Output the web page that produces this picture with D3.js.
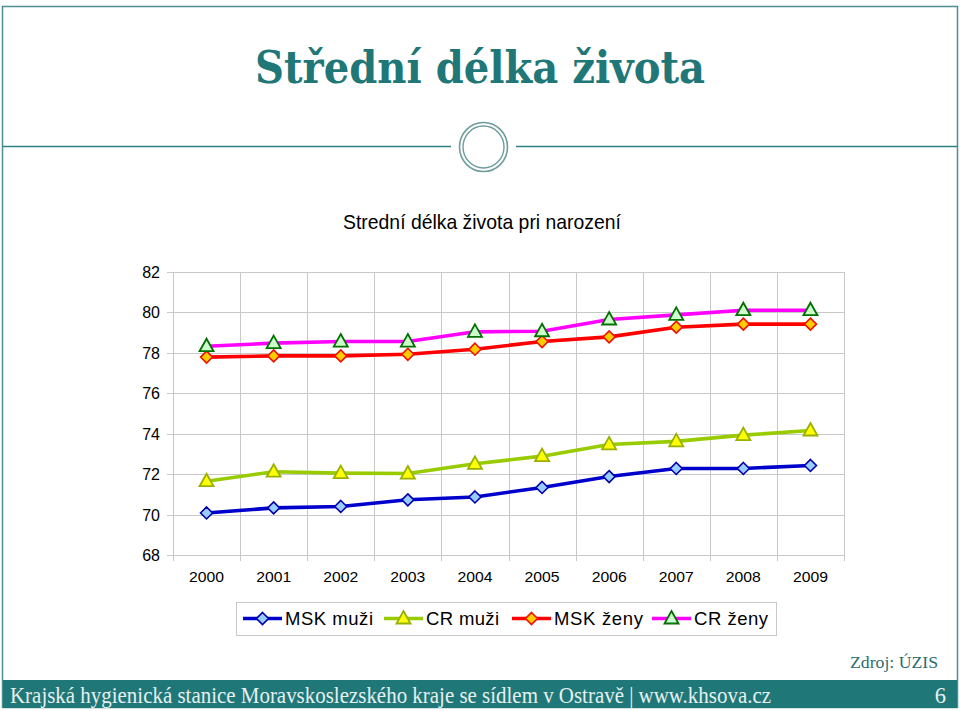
<!DOCTYPE html>
<html><head><meta charset="utf-8">
<script src="https://cdn.jsdelivr.net/npm/d3@7"></script>
<style>body{margin:0;background:#fff}svg{display:block}</style>
</head><body>
<svg id="c" width="960" height="711"></svg>
<script>
const years = ["2000","2001","2002","2003","2004","2005","2006","2007","2008","2009"];
const mskMuzi = [70.08,70.33,70.40,70.73,70.87,71.34,71.88,72.28,72.28,72.43];
const crMuzi  = [71.65,72.12,72.05,72.03,72.51,72.89,73.47,73.62,73.93,74.16];
const mskZeny = [77.79,77.85,77.85,77.93,78.18,78.56,78.79,79.27,79.42,79.42];
const crZeny  = [78.33,78.48,78.56,78.56,79.04,79.07,79.65,79.88,80.11,80.11];
const yTicks = [68,70,72,74,76,78,80,82];
const seriesNames = ["MSK muži","CR muži","MSK ženy","CR ženy"];

const svg = d3.select("#c");
const teal = "#1f7778";

function fit(sel, w){ const n=sel.node(); const cur=n.getComputedTextLength(); const fs=parseFloat(sel.attr("font-size")); sel.attr("font-size", fs*w/cur); }

// slide frame
svg.append("rect").attr("x",2.5).attr("y",6.5).attr("width",955).attr("height",701).attr("fill","none").attr("stroke","#4e8e90").attr("stroke-width",1.5);
// header rule
svg.append("line").attr("x1",3).attr("x2",451).attr("y1",146.5).attr("y2",146.5).attr("stroke","#2d8083").attr("stroke-width",1.5);
svg.append("line").attr("x1",516).attr("x2",957).attr("y1",146.5).attr("y2",146.5).attr("stroke","#2d8083").attr("stroke-width",1.5);
svg.append("ellipse").attr("cx",483.5).attr("cy",147).attr("rx",24).attr("ry",24.5).attr("fill","#fff").attr("stroke","#6f9c9d").attr("stroke-width",1.6);
svg.append("ellipse").attr("cx",483.5).attr("cy",147).attr("rx",20.5).attr("ry",21).attr("fill","none").attr("stroke","#6f9c9d").attr("stroke-width",1.4);

// title
const tg = svg.append("g").attr("transform","translate(480,83) scale(1,1.13)");
const t = tg.append("text").attr("x",0).attr("y",0).attr("text-anchor","middle")
  .attr("font-family","'DejaVu Serif', Georgia, serif").attr("font-weight","bold").attr("font-size",40)
  .attr("fill",teal).text("Střední délka života");
fit(t,450);

// footer
svg.append("rect").attr("x",3).attr("y",680).attr("width",954).attr("height",28).attr("fill","#1f7778");
const ft = svg.append("text").attr("x",10).attr("y",703).attr("font-family","'Liberation Serif', serif").attr("font-size",22.5)
  .attr("fill","#e6f0f0").text("Krajská hygienická stanice Moravskoslezského kraje se sídlem v Ostravě | www.khsova.cz");
ft.attr("textLength",761).attr("lengthAdjust","spacingAndGlyphs");
svg.append("text").attr("x",946).attr("y",703).attr("text-anchor","end").attr("font-family","'Liberation Serif', serif").attr("font-size",22.5).attr("fill","#e6f0f0").text("6");
svg.append("text").attr("x",938).attr("y",668).attr("text-anchor","end").attr("font-family","'Liberation Serif', serif").attr("font-size",17.5).attr("fill","#2b6d6f")
  .attr("textLength",88).attr("lengthAdjust","spacingAndGlyphs").text("Zdroj: ÚZIS");

// chart title
const ct = svg.append("text").attr("x",482).attr("y",229).attr("text-anchor","middle")
  .attr("font-family","'Liberation Sans', Arial, sans-serif").attr("font-size",18).attr("fill","#000")
  .text("Strední délka života pri narození");
fit(ct,278);

// plot
const L=173, R=844, T=272, B=555;
const x = d3.scaleBand().domain(years).range([L,R]);
const y = d3.scaleLinear().domain([68,82]).range([B,T]);
const g = svg.append("g");
const grid = "#c8c8c8";
g.selectAll(".hg").data(yTicks).join("line").attr("x1",L-6).attr("x2",R).attr("y1",d=>Math.round(y(d))+0.5).attr("y2",d=>Math.round(y(d))+0.5).attr("stroke",grid).attr("stroke-width",1);
const bounds = years.map(d=>x(d)).concat([R]);
g.selectAll(".vg").data(bounds).join("line").attr("x1",d=>Math.round(d)+0.5).attr("x2",d=>Math.round(d)+0.5).attr("y1",T).attr("y2",B+6).attr("stroke",grid).attr("stroke-width",1);
g.selectAll(".yl").data(yTicks).join("text").attr("x",160).attr("y",d=>y(d)+6).attr("text-anchor","end")
  .attr("font-family","'Liberation Sans', Arial, sans-serif").attr("font-size",16).text(d=>d);
g.selectAll(".xl").data(years).join("text").attr("x",d=>x(d)+x.bandwidth()/2).attr("y",582).attr("text-anchor","middle")
  .attr("font-family","'Liberation Sans', Arial, sans-serif").attr("font-size",15.5).attr("textLength",35).attr("lengthAdjust","spacingAndGlyphs").text(d=>d);

const series = [
  {name:seriesNames[0], vals:mskMuzi, line:"#0000cc", mfill:"#99ccff", mstroke:"#0000aa", shape:"diamond"},
  {name:seriesNames[1], vals:crMuzi, line:"#99cc00", mfill:"#ffff00", mstroke:"#99b000", shape:"triangle"},
  {name:seriesNames[2], vals:mskZeny, line:"#ff0000", mfill:"#ffcc00", mstroke:"#ee1100", shape:"diamond"},
  {name:seriesNames[3], vals:crZeny, line:"#ff00ff", mfill:"#ccffcc", mstroke:"#007000", shape:"triangle"}
];
const cx = d=>x(d)+x.bandwidth()/2;
const lineGen = d3.line().x(d=>cx(d[0])).y(d=>y(d[1]));
function marker(sel, shape, fill, stroke){
  if(shape==="diamond"){
    sel.append("path").attr("d","M0,-6L6,0L0,6L-6,0Z").attr("fill",fill).attr("stroke",stroke).attr("stroke-width",1.6);
  } else {
    sel.append("path").attr("d","M0,-7.5L7,5L-7,5Z").attr("fill",fill).attr("stroke",stroke).attr("stroke-width",1.8);
  }
}
series.forEach(s=>{
  const pts = years.map((yr,i)=>[yr,s.vals[i]]);
  g.append("path").attr("d",lineGen(pts)).attr("fill","none").attr("stroke",s.line).attr("stroke-width",3.6).attr("stroke-linejoin","round");
  pts.forEach(p=>{
    const m = g.append("g").attr("transform",`translate(${cx(p[0])},${y(p[1])})`);
    marker(m,s.shape,s.mfill,s.mstroke);
  });
});

// legend
svg.append("rect").attr("x",236.5).attr("y",602.5).attr("width",540).attr("height",33).attr("fill","#fff").attr("stroke","#c8c8c8");
const lx = [243,384,512,652];
const lw = [88,73,89,74];
series.forEach((s,i)=>{
  const gg = svg.append("g");
  gg.append("line").attr("x1",lx[i]).attr("x2",lx[i]+39).attr("y1",618.5).attr("y2",618.5).attr("stroke",s.line).attr("stroke-width",3.6);
  const m = gg.append("g").attr("transform",`translate(${lx[i]+19.5},618.5)`);
  marker(m,s.shape,s.mfill,s.mstroke);
  gg.append("text").attr("x",lx[i]+42).attr("y",625).attr("font-family","'Liberation Sans', Arial, sans-serif").attr("font-size",18.5)
    .attr("textLength",lw[i]).attr("lengthAdjust","spacing").text(s.name);
});
</script>
</body></html>
